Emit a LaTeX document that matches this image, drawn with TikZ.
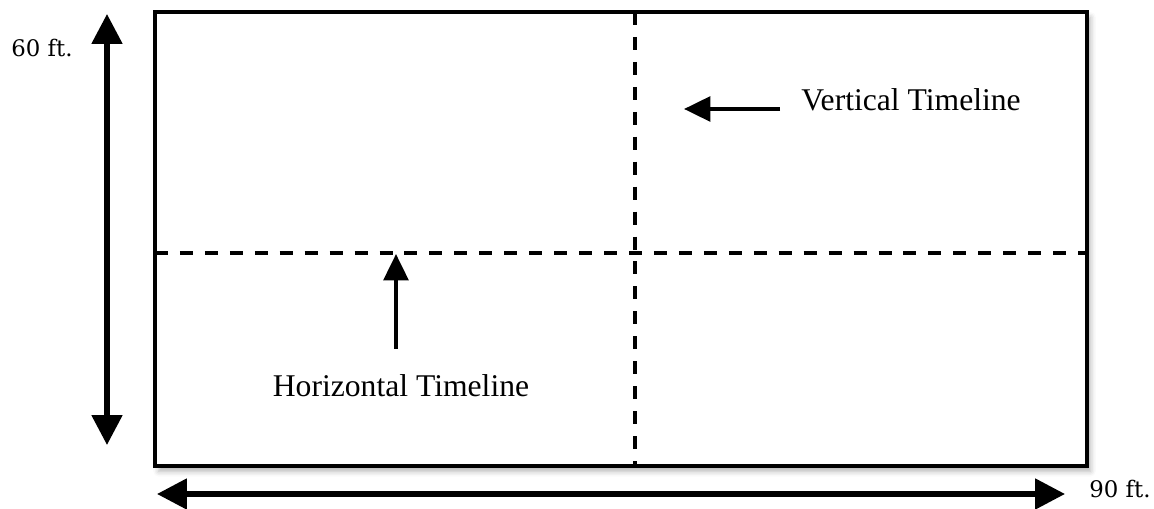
\documentclass[tikz,border=0pt]{standalone}
\usepackage{fontspec}
\newfontfamily\timesfont{Liberation Serif}
\newfontfamily\schfont{DejaVu Serif}
\usetikzlibrary{arrows.meta,positioning,shadows.blur}
\tikzset{font=\schfont\fontsize{13}{15}\selectfont}
\tikzset{every node/.append style={transform shape=false}}
\tikzset{
  dimarrow/.style={line width=3pt,{Triangle[width=17pt,length=17pt,fill=black]}-{Triangle[width=17pt,length=17pt,fill=black]}},
  ptrarrow/.style={line width=2.3pt,-{Triangle[width=14pt,length=15pt,fill=black]}},
  timeline/.style={line width=2.4pt,dash pattern=on 7.4pt off 6.8pt},
  lbl/.style={font=\timesfont\fontsize{18}{20}\selectfont}
}

\begin{document}
\begin{tikzpicture}[x=0.02cm,y=-0.02cm]
\useasboundingbox (0,0) rectangle (1154,509);
% field corners and midlines
\coordinate (nw) at (155,12);
\coordinate (se) at (1087,466);
\coordinate (vtop) at (635,12);
\coordinate (vbot) at (635,466);
\coordinate (hleft) at (155,253);
\coordinate (hright) at (1087,253);
\draw[line width=2.5pt,fill=white,
  blur shadow={shadow xshift=2pt,shadow yshift=-3pt,shadow blur radius=3pt,shadow opacity=30}]
  (nw) rectangle (se);
\draw[timeline] (vtop)--(vbot);
\draw[timeline] (hleft)--(hright);
% dimensions
\coordinate (ltop) at (107,14);
\coordinate (lbot) at (107,445);
\coordinate (bleft) at (157,494);
\coordinate (bright) at (1065,494);
\draw[dimarrow] (ltop)--(lbot);
\draw[dimarrow] (bleft)--(bright);
\node (width) at (42,48) {60 ft.};
\node (length) at (1120,489) {90 ft.};
% labels
\node[lbl] (vlabel) at (911,100) {Vertical Timeline};
\node[lbl] (hlabel) at (401,386) {Horizontal Timeline};
\coordinate (vtail) at (780,109);
\coordinate (vtip) at (684,109);
\coordinate (htail) at (396,349);
\coordinate (htip) at (396,254);
\draw[ptrarrow] (vtail)--(vtip);
\draw[ptrarrow] (htail)--(htip);
\end{tikzpicture}
\end{document}
